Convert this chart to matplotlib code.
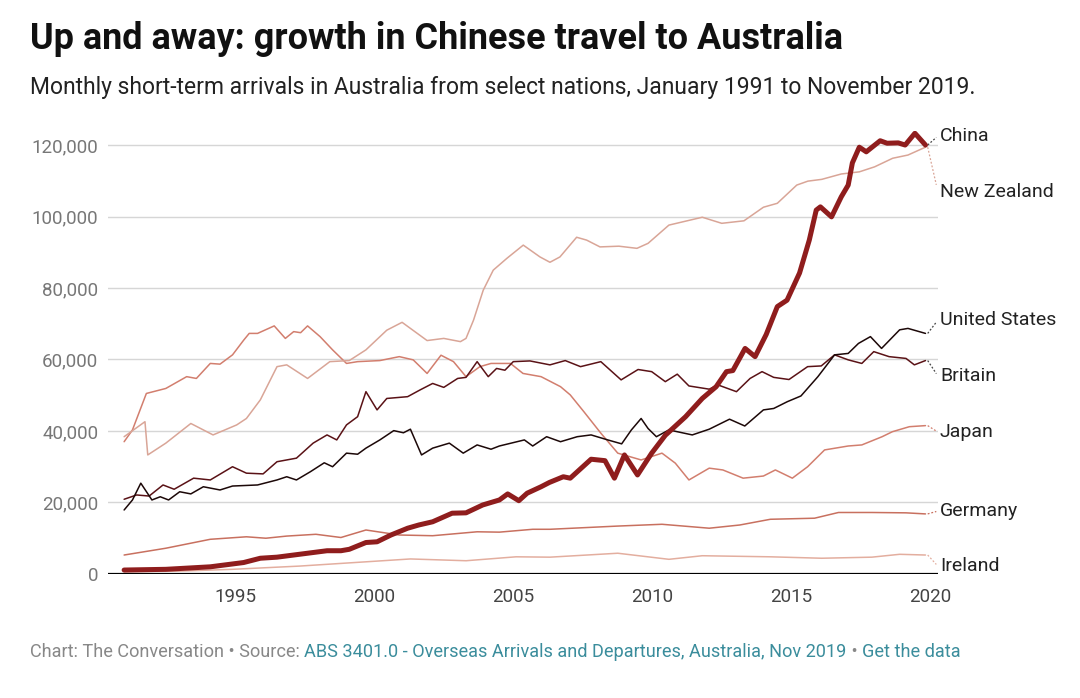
import matplotlib
matplotlib.use("Agg")
import matplotlib.pyplot as plt
from matplotlib.ticker import FuncFormatter

plt.rcParams['font.family'] = ['Roboto', 'DejaVu Sans']

# monthly short-term arrivals (thousands)
china_years = [1991.0, 1992.5, 1994.1, 1995.3, 1995.9, 1996.5, 1997.6, 1998.3, 1998.8, 1999.1,
               1999.7, 2000.1, 2000.6, 2001.2, 2001.6, 2002.1, 2002.8, 2003.3, 2003.9, 2004.5,
               2004.8, 2005.2, 2005.5, 2006.0, 2006.3, 2006.8, 2007.05, 2007.8, 2008.3, 2008.64,
               2009.0, 2009.47, 2009.98, 2010.47, 2011.2, 2011.8, 2012.3, 2012.67, 2012.9, 2013.34,
               2013.7, 2014.1, 2014.5, 2014.85, 2015.3, 2015.65, 2015.9, 2016.05, 2016.45, 2016.8,
               2017.05, 2017.2, 2017.45, 2017.7, 2018.2, 2018.45, 2018.85, 2019.1, 2019.45, 2019.83]
china_vals = [1.1, 1.3, 2.0, 3.2, 4.4, 4.7, 5.8, 6.5, 6.5, 6.9,
              8.8, 9.0, 10.9, 12.8, 13.7, 14.6, 17.0, 17.1, 19.3, 20.7,
              22.4, 20.5, 22.6, 24.4, 25.6, 27.2, 26.8, 32.1, 31.7, 26.8,
              33.3, 27.7, 33.8, 38.8, 44.0, 49.1, 52.4, 56.6, 56.9, 63.1,
              60.8, 67.0, 74.8, 76.6, 84.2, 93.4, 101.8, 102.7, 99.9, 105.5,
              108.8, 115.0, 119.4, 118.1, 121.2, 120.5, 120.6, 120.0, 123.3, 120.0]

nz_years = [1991.0, 1991.75, 1991.85, 1992.5, 1993.4, 1994.2, 1995.05, 1995.4, 1995.9, 1996.5,
            1996.85, 1997.6, 1998.4, 1999.1, 1999.7, 2000.45, 2001.0, 2001.9, 2002.5, 2003.1,
            2003.3, 2003.57, 2003.92, 2004.28, 2004.77, 2005.36, 2005.96, 2006.32, 2006.68, 2007.28,
            2007.64, 2008.12, 2008.8, 2009.45, 2009.85, 2010.6, 2011.8, 2012.5, 2013.3, 2014.0,
            2014.5, 2015.2, 2015.6, 2016.1, 2016.8, 2017.45, 2018.0, 2018.65, 2019.2, 2019.83]
nz_vals = [38.4, 42.6, 33.3, 36.6, 42.1, 38.9, 41.7, 43.5, 48.7, 58.0,
           58.5, 54.7, 59.4, 59.7, 62.7, 68.2, 70.4, 65.3, 65.9, 65.0,
           65.9, 71.0, 79.4, 85.0, 88.3, 92.0, 88.7, 87.2, 88.7, 94.2,
           93.4, 91.5, 91.7, 91.1, 92.5, 97.6, 99.8, 98.1, 98.8, 102.6,
           103.7, 108.8, 109.9, 110.4, 111.9, 112.5, 113.9, 116.3, 117.2, 119.4]

us_years = [1991.0, 1991.3, 1991.6, 1992.0, 1992.3, 1992.6, 1993.0, 1993.4, 1993.85, 1994.45,
            1994.9, 1995.8, 1996.5, 1996.85, 1997.2, 1997.7, 1998.2, 1998.5, 1999.0, 1999.4,
            1999.7, 2000.2, 2000.7, 2001.05, 2001.3, 2001.7, 2002.1, 2002.7, 2003.2, 2003.7,
            2004.2, 2004.5, 2005.4, 2005.7, 2006.2, 2006.7, 2007.3, 2007.8, 2008.4, 2008.9,
            2009.25, 2009.6, 2009.85, 2010.15, 2010.6, 2011.44, 2012.05, 2012.78, 2013.33, 2014.0,
            2014.37, 2014.86, 2015.35, 2015.96, 2016.56, 2017.05, 2017.42, 2017.85, 2018.25, 2018.9,
            2019.2, 2019.83]
us_vals = [17.9, 20.7, 25.4, 20.7, 21.6, 20.7, 23.0, 22.4, 24.4, 23.5,
           24.6, 24.9, 26.3, 27.2, 26.3, 28.6, 31.1, 30.0, 33.8, 33.5,
           35.2, 37.5, 40.1, 39.5, 40.5, 33.3, 35.2, 36.6, 33.8, 36.1,
           34.9, 35.8, 37.5, 35.8, 38.4, 37.0, 38.4, 38.9, 37.5, 36.4,
           40.3, 43.5, 40.7, 38.4, 40.3, 38.9, 40.5, 43.3, 41.4, 45.9,
           46.3, 48.2, 49.8, 55.2, 61.3, 61.7, 64.5, 66.4, 63.1, 68.3,
           68.7, 67.3]

uk_years = [1991.0, 1991.45, 1991.9, 1992.4, 1992.8, 1993.5, 1994.1, 1994.9, 1995.4, 1996.0,
            1996.5, 1997.2, 1997.8, 1998.3, 1998.65, 1999.0, 1999.4, 1999.7, 2000.1, 2000.45,
            2001.2, 2001.65, 2002.1, 2002.5, 2003.0, 2003.3, 2003.7, 2004.1, 2004.4, 2004.7,
            2005.0, 2005.6, 2006.32, 2006.87, 2007.42, 2008.15, 2008.88, 2009.49, 2009.98, 2010.47,
            2010.9, 2011.32, 2012.05, 2012.36, 2013.03, 2013.52, 2013.95, 2014.37, 2014.92, 2015.59,
            2016.08, 2016.56, 2017.05, 2017.54, 2017.97, 2018.52, 2019.13, 2019.43, 2019.83]
uk_vals = [20.9, 22.1, 21.8, 24.9, 23.7, 26.8, 26.3, 30.0, 28.2, 28.0,
           31.4, 32.4, 36.6, 38.9, 37.5, 41.7, 44.0, 51.0, 45.9, 49.1,
           49.6, 51.5, 53.3, 52.2, 54.7, 55.0, 59.4, 55.2, 57.5, 57.0,
           59.4, 59.6, 58.5, 59.7, 58.0, 59.4, 54.3, 57.2, 56.6, 53.8,
           55.9, 52.6, 51.7, 52.9, 51.0, 54.7, 56.6, 55.0, 54.4, 58.0,
           58.2, 61.3, 59.9, 58.9, 62.2, 60.8, 60.3, 58.5, 59.7]

japan_years = [1991.0, 1991.3, 1991.8, 1992.5, 1993.25, 1993.6, 1994.1, 1994.45, 1994.9, 1995.3,
               1995.5, 1995.8, 1996.4, 1996.8, 1997.1, 1997.35, 1997.6, 1998.05, 1998.5, 1999.0,
               1999.4, 2000.2, 2000.9, 2001.4, 2001.9, 2002.4, 2002.85, 2003.3, 2003.8, 2004.2,
               2004.9, 2005.35, 2006.0, 2006.7, 2007.05, 2007.54, 2008.15, 2008.76, 2009.6, 2010.35,
               2010.83, 2011.32, 2012.05, 2012.54, 2013.27, 2014.0, 2014.43, 2015.04, 2015.59, 2016.2,
               2017.05, 2017.54, 2018.27, 2018.64, 2019.25, 2019.83]
japan_vals = [37.0, 40.3, 50.5, 51.9, 55.2, 54.7, 58.9, 58.7, 61.3, 65.4,
              67.3, 67.3, 69.4, 65.9, 67.8, 67.5, 69.4, 66.4, 62.7, 58.9,
              59.4, 59.7, 60.8, 59.9, 56.1, 61.2, 59.4, 55.2, 58.0, 58.9,
              58.9, 56.1, 55.2, 52.4, 50.1, 45.4, 39.4, 33.8, 31.9, 33.8,
              31.0, 26.3, 29.6, 29.1, 26.8, 27.4, 29.1, 26.8, 30.0, 34.7,
              35.8, 36.1, 38.4, 39.8, 41.2, 41.5]

germany_years = [1991.0, 1992.5, 1994.1, 1995.4, 1996.1, 1996.85, 1997.9, 1998.8, 1999.7, 2000.3,
                 2000.9, 2002.1, 2003.7, 2004.5, 2005.7, 2006.32, 2008.76, 2010.35, 2012.05, 2013.15,
                 2014.25, 2015.84, 2016.7, 2017.9, 2019.13, 2019.83]
germany_vals = [5.3, 7.2, 9.7, 10.4, 10.0, 10.6, 11.1, 10.2, 12.3, 11.6,
                10.9, 10.7, 11.8, 11.7, 12.5, 12.5, 13.4, 13.9, 12.8, 13.7,
                15.3, 15.6, 17.2, 17.2, 17.1, 16.8]

ireland_years = [1991.0, 1993.0, 1994.9, 1997.3, 1999.7, 2001.3, 2003.3, 2005.1, 2006.32, 2008.76,
                 2010.6, 2011.8, 2014.25, 2016.1, 2017.9, 2018.9, 2019.83]
ireland_vals = [0.6, 0.8, 1.3, 2.2, 3.4, 4.2, 3.7, 4.8, 4.7, 5.8,
                4.1, 5.1, 4.8, 4.4, 4.7, 5.5, 5.3]

names = ['China', 'New Zealand', 'United States', 'Britain', 'Japan', 'Germany', 'Ireland']
x_ticks = [1995, 2000, 2005, 2010, 2015, 2020]
y_ticks = [0, 20000, 40000, 60000, 80000, 100000, 120000]

series = {
    'China': (china_years, china_vals),
    'New Zealand': (nz_years, nz_vals),
    'United States': (us_years, us_vals),
    'Britain': (uk_years, uk_vals),
    'Japan': (japan_years, japan_vals),
    'Germany': (germany_years, germany_vals),
    'Ireland': (ireland_years, ireland_vals),
}

# styling
colors = {
    'China': '#8f1d1d',
    'New Zealand': '#d9a597',
    'United States': '#1c0808',
    'Britain': '#5a1216',
    'Japan': '#d27e6e',
    'Germany': '#c8705f',
    'Ireland': '#e3ae9f',
}
widths = {'China': 3.6}
label_y = {'China': 122500, 'New Zealand': 107000, 'United States': 71000, 'Britain': 55400,
           'Japan': 39700, 'Germany': 17600, 'Ireland': 2200}

fig = plt.figure(figsize=(10.8, 6.98), dpi=100)
ax = fig.add_axes([0.1, 0.1777, 0.7685, 0.635])

for name in names[::-1]:
    yrs, vals = series[name]
    ax.plot(yrs, [v * 1000 for v in vals], color=colors[name], lw=widths.get(name, 1.1),
            solid_joinstyle='round', solid_capstyle='round',
            zorder=5 if name == 'China' else 3)
    end_x, end_y = yrs[-1], vals[-1] * 1000
    ax.plot([end_x + 0.08, 2020.22], [end_y, label_y[name] + (end_y - label_y[name]) * 0.15],
            color=colors[name] if name not in ('China', 'United States', 'Britain') else '#444',
            lw=0.9, ls=(0, (1.5, 1.5)), clip_on=False, zorder=2)
    ax.text(2020.35, label_y[name], name, fontsize=14, color='#222', va='center', ha='left',
            clip_on=False)

ax.set_xlim(1990.42, 2020.28)
ax.set_ylim(0, 124000)
ax.set_yticks(y_ticks)
ax.set_xticks(x_ticks)
ax.yaxis.set_major_formatter(FuncFormatter(lambda v, p: f'{int(v):,}'))
ax.grid(axis='y', color='#d6d6d6', lw=1)
ax.set_axisbelow(True)
for s in ax.spines.values():
    s.set_visible(False)
ax.axhline(0, color='black', lw=1.6, zorder=4)
ax.tick_params(axis='both', length=0)
ax.tick_params(axis='y', labelsize=13.5, labelcolor='#777', pad=7)
ax.tick_params(axis='x', labelsize=13.5, labelcolor='#444', pad=10)

fig.text(0.028, 0.970, 'Up and away: growth in Chinese travel to Australia',
         fontsize=25.9, fontweight='bold', color='#111', va='top')
fig.text(0.028, 0.891, 'Monthly short-term arrivals in Australia from select nations, '
         'January 1991 to November 2019.', fontsize=16.5, color='#222', va='top')

# footer: gray and teal parts
parts = [('Chart: The Conversation \u2022 Source: ', '#888'),
         ('ABS 3401.0 - Overseas Arrivals and Departures, Australia, Nov 2019', '#3b8d9c'),
         (' \u2022 ', '#888'),
         ('Get the data', '#3b8d9c')]
fig.canvas.draw()
r = fig.canvas.get_renderer()
xpos = 30
for txt, col in parts:
    t = fig.text(xpos / 1080, 1 - 652 / 698, txt, fontsize=13.05, color=col, va='center')
    xpos += t.get_window_extent(renderer=r).width

fig.savefig('out.png', dpi=100, facecolor='white')
